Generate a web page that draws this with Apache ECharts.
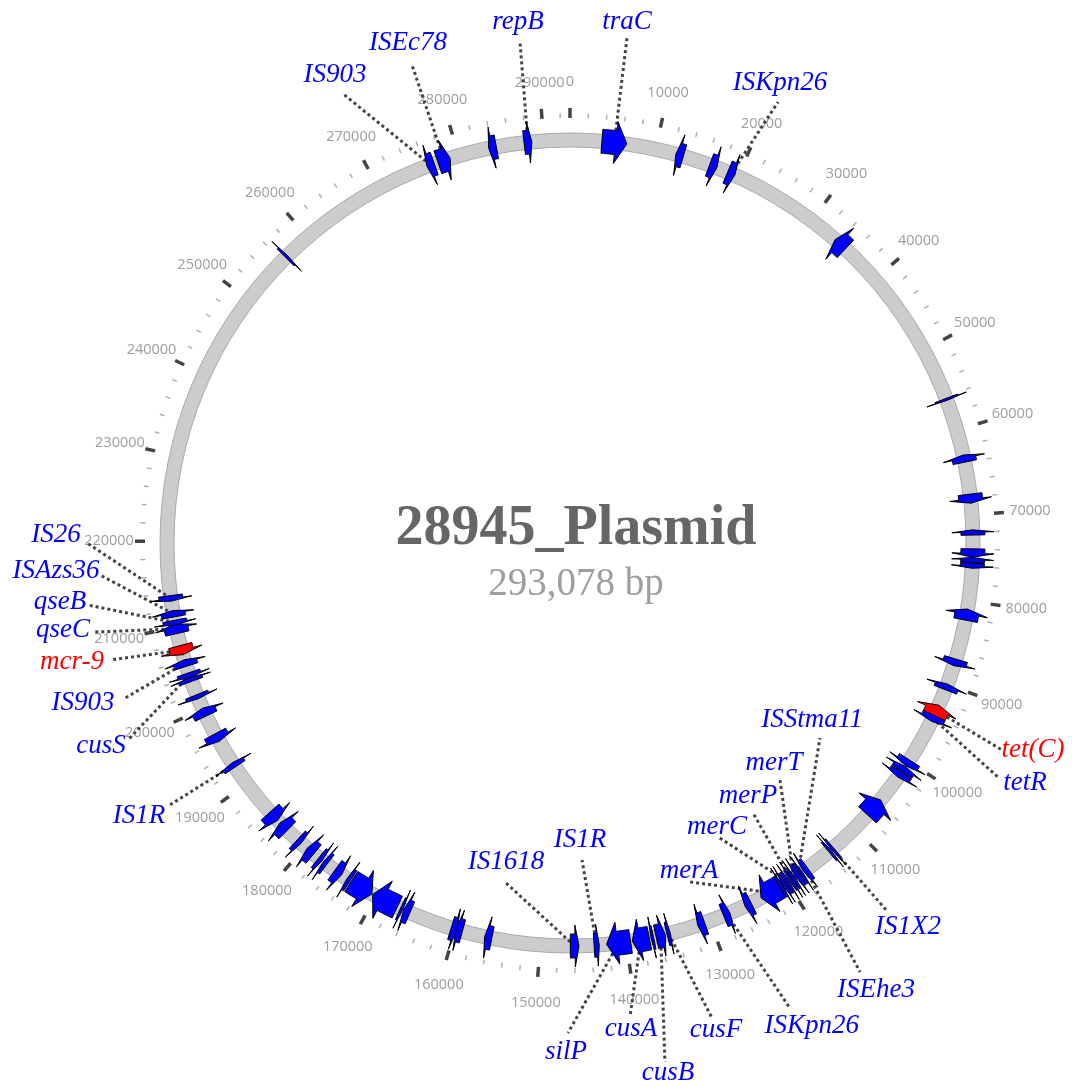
<!DOCTYPE html>
<html>
<head>
<meta charset="utf-8">
<title>28945_Plasmid</title>
<script src="https://cdn.jsdelivr.net/npm/echarts@6/dist/echarts.min.js"></script>
<style>
  html, body { margin: 0; padding: 0; background: #fff; }
  #chart { width: 1072px; height: 1087px; }
</style>
</head>
<body>
<div id="chart"></div>
<script>
const plasmidName = '28945_Plasmid';
const plasmidLength = 293078;
const plasmidLengthText = '293,078 bp';

// features (bp)
const geneStarts = [3700, 12400, 16500, 18750, 33500, 56150, 63000, 67600, 71750, 73950,
  74950, 75600, 80950, 86900, 89950, 92600, 93900, 99800, 100700, 101500,
  105500, 113300, 113700, 117100, 117850, 118300, 118900, 119300, 119700, 120200,
  120600, 121000, 124800, 127500, 130650, 134800, 135400, 136800, 137300, 139500,
  143150, 145500, 155650, 159150, 159800, 165600, 166500, 167200, 170500, 173450,
  174650, 176750, 177450, 178700, 180600, 182800, 184400, 192300, 195800, 199100,
  201300, 203450, 203950, 205300, 206700, 209250, 210250, 211200, 213050, 256550,
  276150, 277500, 283600, 287750];
const geneEnds = [6600, 13300, 17400, 19650, 35100, 56400, 63850, 68650, 72350, 74900,
  75500, 76200, 82250, 87700, 90650, 94000, 94650, 100600, 101400, 102200,
  107800, 113600, 114000, 117700, 118200, 118800, 119250, 119600, 120100, 120550,
  120950, 123500, 125600, 128300, 131500, 135200, 136500, 137100, 139300, 142300,
  143750, 146500, 156500, 159950, 160500, 166400, 166800, 170400, 173300, 173900,
  175600, 177250, 177950, 179700, 181200, 184000, 185700, 192900, 196800, 200100,
  201800, 203950, 204500, 206100, 207800, 210350, 210800, 211950, 213700, 256850,
  277050, 279000, 284500, 288650];
const geneStrands = [1, -1, 1, 1, -1, 1, -1, 1, -1, 1,
  -1, 1, -1, 1, -1, -1, 1, 1, -1, 1,
  -1, 1, -1, 1, -1, 1, -1, -1, -1, 1,
  -1, 1, 1, -1, 1, -1, -1, 1, 1, 1,
  -1, -1, 1, 1, -1, 1, -1, 1, -1, 1,
  -1, 1, -1, 1, -1, 1, -1, 1, -1, 1,
  -1, 1, -1, 1, -1, 1, -1, 1, -1, 1,
  -1, 1, -1, 1];
const geneNames = ['traC', '', '', 'ISKpn26', '', '', '', '', '', '',
  '', '', '', '', '', 'tet(C)', 'tetR', '', '', '',
  '', 'IS1X2', '', 'ISEhe3', '', 'ISStma11', 'merT', 'merP', 'merC', '',
  '', 'merA', '', 'ISKpn26', '', 'cusF', 'cusB', '', 'cusA', 'silP',
  'IS1R', 'IS1618', '', '', '', '', '', '', '', '',
  '', '', '', '', '', '', '', 'IS1R', '', '',
  '', '', 'cusS', 'IS903', 'mcr-9', 'qseC', 'qseB', 'ISAzs36', 'IS26', '',
  'IS903', 'ISEc78', '', 'repB'];
const resistanceGenes = ['tet(C)', 'mcr-9'];

const tickLabels = ['0', '10000', '20000', '30000', '40000', '50000', '60000', '70000', '80000', '90000',
  '100000', '110000', '120000', '130000', '140000', '150000', '160000', '170000', '180000', '190000',
  '200000', '210000', '220000', '230000', '240000', '250000', '260000', '270000', '280000', '290000'];
const minorStep = 2000;

// label layout: [gene start, leader end radius, leader end bp, text radius, text bp]
const labelLayout = [
  [276150, 504.5, 271200, 523.7, 271380],
  [277500, 503.4, 278190, 525.6, 278460],
  [287750, 503.5, 288440, 523.6, 288440],
  [3700, 508.2, 5240, 524.1, 5080],
  [18750, 487.6, 20560, 505.7, 19980],
  [92600, 479, 94110, 507.2, 92880],
  [93900, 487.8, 96610, 514.4, 95910],
  [118300, 317, 104160, 299.8, 102740],
  [118900, 316.7, 112720, 300, 111660],
  [119300, 326, 118750, 309.3, 117940],
  [119700, 329, 124790, 319.8, 124270],
  [121000, 359.6, 130660, 349, 130300],
  [113300, 487, 113360, 511.6, 112880],
  [117100, 517.8, 118810, 541.7, 118530],
  [127500, 514.4, 125940, 540, 124880],
  [134800, 495.8, 132990, 508.4, 132950],
  [135400, 527.6, 138100, 539, 138010],
  [137300, 477.8, 140670, 489.8, 140720],
  [139500, 490, 146730, 509, 146910],
  [143150, 317.2, 144770, 297.2, 144970],
  [145500, 345.2, 155370, 325.4, 155770],
  [192300, 478.2, 192770, 510.2, 193480],
  [203950, 484, 200250, 511, 200750],
  [205300, 471.2, 204170, 512.6, 205000],
  [206700, 474.6, 208190, 512, 208870],
  [209250, 483.3, 211170, 514.4, 211880],
  [210250, 486, 213840, 513.4, 214430],
  [211200, 471.1, 216640, 514.8, 217270],
  [213050, 483, 219810, 514, 220530]
];

// radii in px (radius axis is 1 unit = 1 px)
const R_MID = 403, R_RING_IN = 396, R_RING_OUT = 410;
const R_BODY_IN = 391, R_BODY_OUT = 415, R_WING_IN = 382, R_WING_OUT = 424;
const R_TICK = 425, R_TICK_LABEL = 461;

const minorTicks = [];
for (let p = 0; p < plasmidLength; p += minorStep) minorTicks.push(p);

function geneIndexOf(start) {
  return geneStarts.indexOf(start);
}

function renderRing(params, api) {
  const c = api.coord([0, 0]);
  return {
    type: 'ring',
    shape: { cx: c[0], cy: c[1], r: R_RING_OUT, r0: R_RING_IN },
    style: { fill: '#cccccc', stroke: '#a8a8a8', lineWidth: 1 }
  };
}

function renderTick(params, api) {
  const pos = api.value(1);
  const major = pos % 10000 === 0;
  const a = api.coord([R_TICK, pos]);
  const b = api.coord([major ? 435 : 430, pos]);
  return {
    type: 'line',
    shape: { x1: a[0], y1: a[1], x2: b[0], y2: b[1] },
    style: { stroke: major ? '#444' : '#b0b0b0', lineWidth: major ? 3.5 : 1.5 }
  };
}

function renderTickLabel(params, api) {
  const p = api.coord([R_TICK_LABEL, api.value(1)]);
  return {
    type: 'text',
    x: p[0], y: p[1],
    style: {
      text: tickLabels[params.dataIndex],
      fill: '#9d9d9d',
      font: '14.5px "Open Sans"',
      align: 'center', verticalAlign: 'middle',
      textAlign: 'center', textVerticalAlign: 'middle'
    }
  };
}

function renderGene(params, api) {
  const i = params.dataIndex;
  const s = geneStarts[i], e = geneEnds[i];
  const head = Math.min((e - s) * 0.45, 1300);
  const pts = [];
  const arc = (r, a, b) => {
    const n = Math.max(1, Math.ceil(Math.abs(b - a) / 150));
    for (let k = 0; k <= n; k++) pts.push(api.coord([r, a + (b - a) * k / n]));
  };
  if (geneStrands[i] > 0) {
    const hb = e - head;
    arc(R_BODY_OUT, s, hb);
    pts.push(api.coord([R_WING_OUT, hb]));
    pts.push(api.coord([R_MID, e]));
    pts.push(api.coord([R_WING_IN, hb]));
    arc(R_BODY_IN, hb, s);
  } else {
    const hb = s + head;
    pts.push(api.coord([R_MID, s]));
    pts.push(api.coord([R_WING_OUT, hb]));
    arc(R_BODY_OUT, hb, e);
    arc(R_BODY_IN, e, hb);
    pts.push(api.coord([R_WING_IN, hb]));
  }
  const red = resistanceGenes.indexOf(geneNames[i]) >= 0;
  return {
    type: 'polygon',
    shape: { points: pts },
    style: { fill: red ? '#ff0000' : '#0000ff', stroke: '#000', lineWidth: 1 }
  };
}

function renderLeader(params, api) {
  const l = labelLayout[params.dataIndex];
  const g = geneIndexOf(l[0]);
  const a = api.coord([R_MID, (geneStarts[g] + geneEnds[g]) / 2]);
  const b = api.coord([l[1], l[2]]);
  return {
    type: 'line',
    shape: { x1: a[0], y1: a[1], x2: b[0], y2: b[1] },
    style: { stroke: '#444', lineWidth: 3, lineDash: [3, 3] }
  };
}

function renderLabel(params, api) {
  const l = labelLayout[params.dataIndex];
  const name = geneNames[geneIndexOf(l[0])];
  const p = api.coord([l[3], l[4]]);
  return {
    type: 'text',
    x: p[0], y: p[1],
    style: {
      text: name,
      fill: resistanceGenes.indexOf(name) >= 0 ? '#ff0000' : '#0000ff',
      font: 'italic 27px "Liberation Serif"',
      align: 'center', verticalAlign: 'middle',
      textAlign: 'center', textVerticalAlign: 'middle'
    }
  };
}

const chart = echarts.init(document.getElementById('chart'));
chart.setOption({
  animation: false,
  title: [
    {
      text: plasmidName, left: 571, top: 497, textAlign: 'center',
      textStyle: { fontFamily: 'Liberation Serif', fontWeight: 'bold', fontSize: 56, color: '#666' }
    },
    {
      text: plasmidLengthText, left: 571, top: 560, textAlign: 'center',
      textStyle: { fontFamily: 'Liberation Serif', fontWeight: 'normal', fontSize: 39, color: '#9e9e9e' }
    }
  ],
  polar: { center: [570, 543], radius: R_TICK },
  radiusAxis: { min: 0, max: R_TICK, show: false },
  angleAxis: { min: 0, max: plasmidLength, startAngle: 90, clockwise: true, show: false },
  series: [
    { type: 'custom', coordinateSystem: 'polar', data: [[R_MID, 0]], renderItem: renderRing, silent: true },
    { type: 'custom', coordinateSystem: 'polar', data: minorTicks.map(p => [R_TICK, p]), renderItem: renderTick, silent: true },
    { type: 'custom', coordinateSystem: 'polar', data: tickLabels.map(t => [R_TICK_LABEL, Number(t)]), renderItem: renderTickLabel, silent: true },
    { type: 'custom', coordinateSystem: 'polar', data: labelLayout.map(l => [l[1], l[2]]), renderItem: renderLeader, silent: true },
    { type: 'custom', coordinateSystem: 'polar', data: geneStarts.map(s => [R_MID, s]), renderItem: renderGene, silent: true },
    { type: 'custom', coordinateSystem: 'polar', data: labelLayout.map(l => [l[3], l[4]]), renderItem: renderLabel, silent: true }
  ]
});
</script>
</body>
</html>
